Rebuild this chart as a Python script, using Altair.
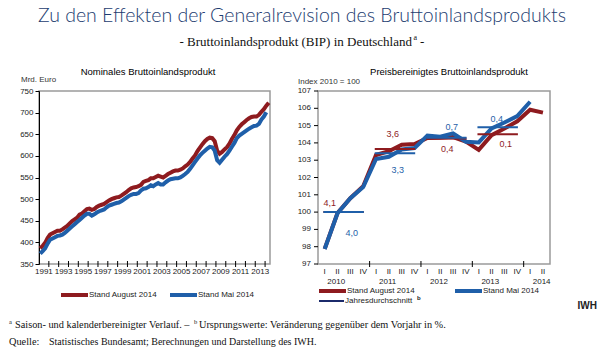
import altair as alt
import pandas as pd

# ---------------- data ----------------
# Nominal GDP, quarterly, bn Euro (1991Q1 ...)
nom_start_year = 1991
nom_aug = [386, 392, 399, 410, 418, 421, 424, 427, 427, 430, 434, 438,
           444, 449, 453, 457, 464, 467, 472, 477, 478, 475, 477, 482,
           485, 487, 489, 493, 497, 500, 502, 504, 505, 508, 512, 516,
           521, 525, 527, 528, 530, 533, 540, 542, 544, 548, 548, 551,
           554, 552, 550, 554, 558, 561, 564, 566, 566, 568, 571, 576,
           580, 586, 594, 601, 611, 619, 627, 634, 639, 642, 641, 634,
           612, 605, 609, 615, 620, 628, 639, 648, 659, 667, 673, 678,
           683, 687, 690, 691, 691, 695, 702, 708, 716, 723]
nom_mai = [374, 380, 386, 397, 406, 409, 412, 415, 416, 418, 422, 427,
           432, 437, 442, 447, 452, 457, 462, 466, 466, 462, 465, 469,
           472, 474, 476, 481, 485, 487, 489, 491, 492, 495, 499, 503,
           507, 510, 512, 512, 514, 520, 524, 525, 528, 532, 530, 534,
           537, 534, 534, 539, 543, 546, 547, 548, 548, 550, 554, 558,
           563, 570, 578, 586, 594, 601, 607, 612, 617, 621, 620, 612,
           590, 584, 591, 598, 604, 612, 621, 630, 641, 647, 651, 655,
           659, 663, 666, 669, 670, 674, 684, 691, 701]
nom_label_years = list(range(1991, 2014, 2))
nom_tick_years = list(range(1992, 2015))
nom_y_ticks = list(range(350, 751, 50))

# Price-adjusted GDP, index 2010 = 100, quarterly 2010Q1 ...
quarter_names = ["I", "II", "III", "IV"]
real_years = [2010, 2011, 2012, 2013, 2014]
real_aug = [97.87, 99.95, 100.8, 101.5, 103.3, 103.52, 103.9, 103.93,
            104.28, 104.3, 104.34, 104.08, 103.6, 104.45, 104.83, 105.25,
            105.92, 105.75]
real_mai = [97.87, 99.93, 100.8, 101.45, 103.07, 103.2, 103.62, 103.7,
            104.42, 104.36, 104.55, 104.07, 104.03, 104.84, 105.18, 105.55,
            106.38]
real_y_ticks = list(range(97, 108))
avg_years = [2010, 2011, 2012, 2013]
avg_aug = [100.0, 103.65, 104.25, 104.5]
avg_mai = [100.0, 103.4, 104.3, 104.9]
growth_aug = ["4,1", "3,6", "0,4", "0,1"]
growth_mai = ["4,0", "3,3", "0,7", "0,4"]
growth_aug_at = [(0.4, 100.5), (5.3, 104.5), (9.55, 103.65), (14.1, 103.96)]
growth_mai_at = [(2.1, 98.77), (5.7, 102.43), (9.9, 104.94), (13.4, 105.38)]

S_AUG = "Stand August 2014"
S_MAI = "Stand Mai 2014"
S_AVG_AUG = "Jahresdurchschnitt Aug"
S_AVG_MAI = "Jahresdurchschnitt"

RED = "#8e1b1f"
BLUE = "#1f5fa9"
RED_AVG = "#d8262b"
NAVY = "#1b2a6b"
RED_TXT = "#a33a3c"
BLUE_TXT = "#4f6283"
TXT = "#222222"

# ---------------- tables ----------------
rows = []
for i, v in enumerate(nom_aug):
    rows.append({"t": nom_start_year + i / 4 + 0.125, "v": v, "s": S_AUG})
for i, v in enumerate(nom_mai):
    rows.append({"t": nom_start_year + i / 4 + 0.125, "v": v, "s": S_MAI})
nom_df = pd.DataFrame(rows)
nom_lab_df = pd.DataFrame({"t": [y + 0.5 for y in nom_label_years],
                           "txt": [str(y) for y in nom_label_years]})
tick_df = pd.DataFrame({"yr": nom_tick_years})

rows = []
for i, v in enumerate(real_aug):
    rows.append({"k": i, "v": v, "s": S_AUG})
for i, v in enumerate(real_mai):
    rows.append({"k": i, "v": v, "s": S_MAI})
real_df = pd.DataFrame(rows)

avg_rows = []
for i, y in enumerate(avg_years):
    avg_rows.append({"x": 4 * i - 0.1, "x2": 4 * i + 3.05, "v": avg_aug[i], "s": S_AVG_AUG, "o": 0})
    avg_rows.append({"x": 4 * i - 0.1, "x2": 4 * i + 3.05, "v": avg_mai[i], "s": S_AVG_MAI, "o": 1})
avg_df = pd.DataFrame(avg_rows)

g_rows = []
for t, (k, v) in zip(growth_aug, growth_aug_at):
    g_rows.append({"k": k, "v": v, "t": t, "c": "aug"})
for t, (k, v) in zip(growth_mai, growth_mai_at):
    g_rows.append({"k": k, "v": v, "t": t, "c": "mai"})
g_df = pd.DataFrame(g_rows)

n_q = len(real_aug)
q_df = pd.DataFrame({"k": list(range(n_q)),
                     "t": [quarter_names[i % 4] for i in range(n_q)]})
yl_df = pd.DataFrame({"k": [4 * i + 0.9 for i in range(len(real_years))],
                      "t": [str(y) for y in real_years]})
sep_df = pd.DataFrame({"k": [4 * i - 0.5 for i in range(1, len(real_years))]})
ry_df = pd.DataFrame({"v": real_y_ticks, "t": [str(v) for v in real_y_ticks]})

ONE = pd.DataFrame({"o": [0]})

W_L, W_R, H = 231, 232, 173
FONT = "Liberation Sans"
SERIF = "Liberation Serif"


def txt(text, x, y, size=8, color=TXT, font=FONT, weight="normal",
        align="left", baseline="middle"):
    return alt.Chart(ONE).mark_text(
        text=text, fontSize=size, color=color, font=font, fontWeight=weight,
        align=align, baseline=baseline
    ).encode(x=alt.value(x), y=alt.value(y))


def sample(x1, x2, y, color, width):
    return alt.Chart(ONE).mark_rule(color=color, strokeWidth=width).encode(
        x=alt.value(x1), x2=alt.value(x2), y=alt.value(y))


# ---------------- left panel ----------------
xs_l = alt.Scale(domain=[1991, 2014.5], nice=False, zero=False)
ys_l = alt.Scale(domain=[350, 750], nice=False, zero=False)

nom_lines = alt.Chart(nom_df).mark_line(strokeWidth=4).encode(
    x=alt.X("t:Q", scale=xs_l,
            axis=alt.Axis(labels=False, ticks=False, title=None)),
    y=alt.Y("v:Q", scale=ys_l,
            axis=alt.Axis(values=nom_y_ticks, tickSize=4, labelPadding=2,
                          title=None)),
    color=alt.Color("s:N", scale=alt.Scale(domain=[S_AUG, S_MAI], range=[RED, BLUE]),
                    legend=None),
)
nom_ticks = alt.Chart(tick_df).mark_rule(color="black", strokeWidth=1).encode(
    x=alt.X("yr:Q", scale=xs_l, axis=None), y=alt.value(H - 3), y2=alt.value(H + 3))
nom_xlabels = alt.Chart(nom_lab_df).mark_text(fontSize=8, font=FONT, color=TXT).encode(
    x=alt.X("t:Q", scale=xs_l, axis=None), y=alt.value(H + 8), text="txt:N")

left = alt.layer(
    alt.Chart(ONE).mark_rule(color="white", strokeWidth=1).encode(
        x=alt.value(-37.5), y=alt.value(-89.5), y2=alt.value(262)),
    nom_lines,
    nom_ticks,
    nom_xlabels,
    txt("Zu den Effekten der Generalrevision des Bruttoinlandsprodukts", 263, -69,
        size=19.5, color="#1c3c70", font="Lato", weight=300, align="center",
        baseline="alphabetic"),
    txt("- Bruttoinlandsprodukt (BIP) in Deutschland", 373, -45.5, size=13,
        color="#111111", font=SERIF, align="right", baseline="alphabetic"),
    txt("a", 374.5, -51, size=8, color="#111111", font=SERIF, baseline="alphabetic"),
    txt("-", 381, -45.5, size=13, color="#111111", font=SERIF, baseline="alphabetic"),
    txt("Nominales Bruttoinlandsprodukt", 109, -19, size=9.5, color="#000000",
        align="center"),
    txt("Mrd. Euro", -18, -11, size=8, color="#333333"),
    sample(22, 49, 204, RED, 4),
    txt(S_AUG, 50, 204, size=8),
    sample(131, 158, 204, BLUE, 4),
    txt(S_MAI, 159, 204, size=8),
    txt("IWH", 558, 215, size=10, weight="bold", color=TXT, align="right"),
    txt("a", -30, 233, size=6.5, color="#111111", font=SERIF, baseline="alphabetic"),
    txt("Saison- und kalenderbereinigter Verlauf. \u2013", -24, 237, size=10.3,
        color="#111111", font=SERIF, baseline="alphabetic"),
    txt("b", 155, 233, size=6.5, color="#111111", font=SERIF, baseline="alphabetic"),
    txt("Ursprungswerte: Ver\u00e4nderung gegen\u00fcber dem Vorjahr in %.", 160, 237,
        size=10.3, color="#111111", font=SERIF, baseline="alphabetic"),
    txt("Quelle:", -30, 254, size=10.3, color="#111111", font=SERIF,
        baseline="alphabetic"),
    txt("Statistisches Bundesamt; Berechnungen und Darstellung des IWH.", 10, 254,
        size=10, color="#111111", font=SERIF, baseline="alphabetic"),
).properties(width=W_L, height=H)

# ---------------- right panel ----------------
xs_r = alt.Scale(domain=[-0.52, 17.55], nice=False, zero=False)
ys_r = alt.Scale(domain=[97, 107], nice=False, zero=False)

real_lines = alt.Chart(real_df).mark_line(strokeWidth=4).encode(
    x=alt.X("k:Q", scale=xs_r,
            axis=alt.Axis(labels=False, ticks=False, title=None)),
    y=alt.Y("v:Q", scale=ys_r,
            axis=alt.Axis(labels=False, ticks=False, title=None)),
    color=alt.Color("s:N", scale=alt.Scale(domain=[S_AUG, S_MAI], range=[RED, BLUE]),
                    legend=None),
    order=alt.Order("s:N", sort="ascending"),
)
avg_rules = alt.Chart(avg_df).mark_rule(strokeWidth=2).encode(
    x=alt.X("x:Q", scale=xs_r, axis=None),
    x2="x2:Q",
    y=alt.Y("v:Q", scale=ys_r, axis=None),
    color=alt.Color("s:N", scale=alt.Scale(domain=[S_AVG_AUG, S_AVG_MAI],
                                           range=[RED_AVG, NAVY]), legend=None),
    order=alt.Order("o:Q"),
)
growth = alt.Chart(g_df).mark_text(fontSize=9, font=FONT).encode(
    x=alt.X("k:Q", scale=xs_r, axis=None),
    y=alt.Y("v:Q", scale=ys_r, axis=None),
    text="t:N",
    color=alt.Color("c:N", scale=alt.Scale(domain=["aug", "mai"],
                                           range=[RED_TXT, BLUE_TXT]), legend=None),
)
seps = alt.Chart(sep_df).mark_rule(color="black", strokeWidth=1).encode(
    x=alt.X("k:Q", scale=xs_r, axis=None), y=alt.value(H - 3), y2=alt.value(H + 3))
q_labels = alt.Chart(q_df).mark_text(fontSize=8, font=FONT, color=TXT).encode(
    x=alt.X("k:Q", scale=xs_r, axis=None), y=alt.value(H + 8), text="t:N")
year_labels = alt.Chart(yl_df).mark_text(fontSize=8, font=FONT, color=TXT).encode(
    x=alt.X("k:Q", scale=xs_r, axis=None), y=alt.value(H + 18), text="t:N")
ry_ticks = alt.Chart(ry_df).mark_rule(color="black", strokeWidth=1).encode(
    y=alt.Y("v:Q", scale=ys_r, axis=None), x=alt.value(-4), x2=alt.value(0))
ry_labels = alt.Chart(ry_df).mark_text(fontSize=8, font=FONT, color=TXT,
                                       align="right").encode(
    y=alt.Y("v:Q", scale=ys_r, axis=None), x=alt.value(-7), text="t:N")

right = alt.layer(
    real_lines,
    avg_rules,
    growth,
    seps,
    q_labels,
    year_labels,
    ry_ticks,
    ry_labels,
    txt("Preisbereinigtes Bruttoinlandsprodukt", 131, -19, size=9.5,
        color="#000000", align="center"),
    txt("Index  2010 = 100", -20, -9, size=8, color="#333333"),
    sample(1, 28, 200, RED, 4),
    txt(S_AUG, 29, 200, size=8),
    sample(137, 164, 200, BLUE, 4),
    txt(S_MAI, 165, 200, size=8),
    sample(1, 26, 210, NAVY, 2),
    txt("Jahresdurchschnitt", 27, 210, size=8),
    txt("b", 99, 207, size=6, weight="bold"),
).properties(width=W_R, height=H)

chart = alt.hconcat(left, right, spacing=48, bounds="flush").properties(
    padding={"left": 0, "top": 0, "right": 0, "bottom": 0}
).configure_view(
    stroke="#9a9a9a", strokeWidth=1.5
).configure_axis(
    domainColor="#000000", domainWidth=1, tickColor="#000000", grid=False,
    labelFont=FONT, labelFontSize=8, labelColor=TXT
)

chart.save("out.html", embed_options={"renderer": "svg", "actions": False})
